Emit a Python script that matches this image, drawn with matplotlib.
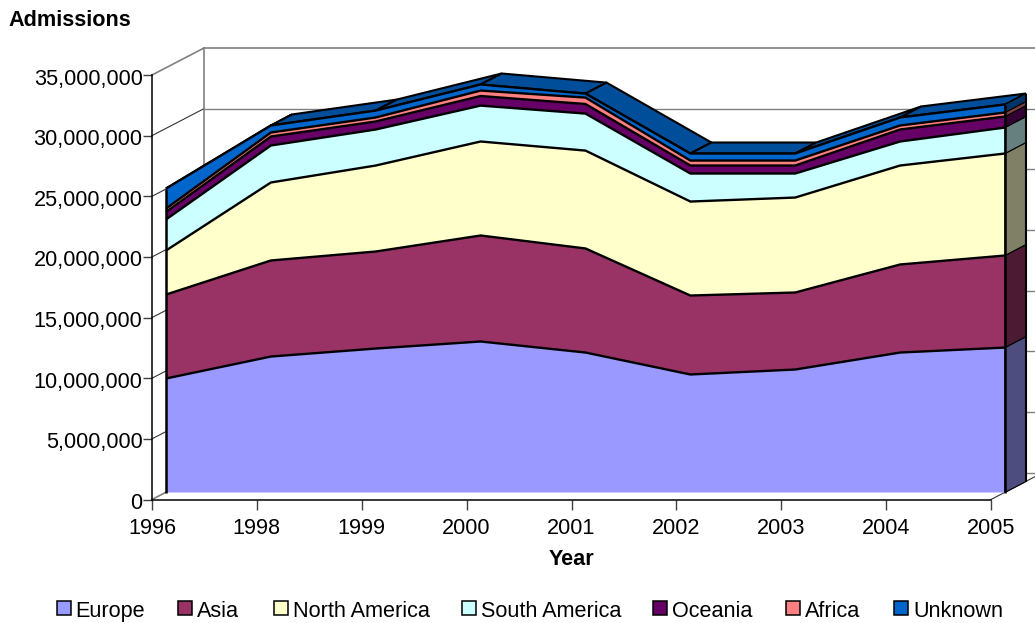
import matplotlib
matplotlib.use("Agg")
import matplotlib.pyplot as plt
import numpy as np
from matplotlib.patches import Polygon, Rectangle
from matplotlib.transforms import IdentityTransform, Affine2D

years = ["1996", "1998", "1999", "2000", "2001", "2002", "2003", "2004", "2005"]
series_names = ["Europe", "Asia", "North America", "South America", "Oceania", "Africa", "Unknown"]
europe = [9.40, 11.21, 11.87, 12.45, 11.54, 9.73, 10.14, 11.54, 11.95]
asia = [6.92, 7.92, 8.00, 8.74, 8.58, 6.51, 6.35, 7.26, 7.59]
north_america = [3.63, 6.43, 7.09, 7.75, 8.07, 7.75, 7.83, 8.16, 8.41]
south_america = [2.56, 3.05, 2.97, 2.96, 3.05, 2.31, 1.98, 1.98, 2.14]
oceania = [0.62, 0.74, 0.66, 0.79, 0.79, 0.66, 0.66, 0.99, 0.91]
africa = [0.28, 0.33, 0.33, 0.45, 0.53, 0.41, 0.41, 0.33, 0.33]
unknown = [1.65, 0.58, 0.57, 0.50, 0.33, 0.58, 0.58, 0.66, 0.66]
colors = ["#9999FF", "#993366", "#FFFFCC", "#CCFFFF", "#660066", "#FF8080", "#0066CC"]
side_colors = ["#4D4D80", "#4D1A33", "#808066", "#668080", "#330033", "#804040", "#003366"]
top_color = "#004D99"
legend_swatch_x = [57, 178, 274, 462, 653, 786, 894]
legend_text_x = [75, 197, 293, 481, 672, 805, 913]

plt.rcParams["font.family"] = ["Liberation Sans", "DejaVu Sans"]
W, H = 1035, 623
fig = plt.figure(figsize=(W / 100, H / 100), dpi=100)
ax = fig.add_axes([152 / W, (H - 499.5) / H, 839 / W, 424.5 / H])
x = np.arange(len(years))
ax.set_xlim(0, 8)
ax.set_ylim(0, 35_000_000)
ax.set_xticks(x, years)
yt = np.arange(0, 35_000_001, 5_000_000)
ax.set_yticks(yt, [f"{v:,}" for v in yt])
ax.tick_params(axis="x", length=7.2, width=1, color="#404040", labelsize=15.6, pad=6)
ax.tick_params(axis="y", length=6.8, width=1, color="#404040", labelsize=15.6, pad=0)
for lab in ax.get_yticklabels():
    lab.set_transform(lab.get_transform() + Affine2D().translate(0, -1.5))
ax.patch.set_visible(False)
for s in ("top", "right"):
    ax.spines[s].set_visible(False)
for s in ("left", "bottom"):
    ax.spines[s].set_linewidth(1.1)
ax.set_xlabel("Year", fontsize=15.6, fontweight="bold", labelpad=7)
fig.text(8 / W, (H - 20) / H, "Admissions", fontsize=15.6, fontweight="bold", va="center", ha="left")

ident = IdentityTransform()
FRONT = (14, 7)
BACK = (35, 18)
WALL = (52, 27)


def pts(xs, ys, off=(0, 0)):
    p = ax.transData.transform(np.column_stack([xs, ys]))
    return p + np.array(off)


def line(p, color="k", lw=1.1, z=3, cap="projecting"):
    ax.plot(p[:, 0], p[:, 1], color=color, lw=lw, transform=ident, clip_on=False,
            zorder=z, solid_capstyle=cap, solid_joinstyle="miter")


def poly(p, color, z, edge="k", lw=1.1):
    ax.add_patch(Polygon(p, closed=True, facecolor=color, edgecolor=edge, lw=lw,
                         transform=ident, clip_on=False, zorder=z, joinstyle="miter"))


# walls and gridlines
xmax_wall = 10
for v in yt:
    p = pts([0, xmax_wall], [v, v], WALL)
    line(p, color="#808080", lw=1.2 if v == yt[-1] else 1.0, z=1)
    a = pts([0], [v])[0]
    b = pts([0], [v], WALL)[0]
    line(np.array([a, b]), color="#808080" if v in (0, yt[-1]) else "#333333",
         lw=1.2 if v in (0, yt[-1]) else 0.8, z=1)
line(pts([0, 0], [0, yt[-1]], WALL), color="#808080", lw=1.2, z=1)
a = pts([8], [0])[0]
line(np.array([a, a + np.array(WALL)]), color="#333333", lw=0.8, z=1)

# stacked areas
stack = np.array([europe, asia, north_america, south_america, oceania, africa, unknown]) * 1e6
cum = np.cumsum(stack, axis=0)
lows = np.vstack([np.zeros(len(x)), cum[:-1]])

# top surface of the last series
top = cum[-1]
for i in range(len(x) - 1):
    q = np.vstack([pts(x[i:i + 2], top[i:i + 2], FRONT),
                   pts(x[i:i + 2][::-1], top[i:i + 2][::-1], BACK)])
    poly(q, top_color, 2, lw=1.5)

# faces
for k, name in enumerate(series_names):
    front_hi = pts(x, cum[k], FRONT)
    front_lo = pts(x, lows[k], FRONT)
    ax.add_patch(Polygon(np.vstack([front_lo, front_hi[::-1]]), closed=True,
                         facecolor=colors[k], edgecolor="none", transform=ident,
                         clip_on=False, zorder=4))
    q = np.array([front_lo[-1], front_hi[-1], front_hi[-1] + np.subtract(BACK, FRONT),
                  front_lo[-1] + np.subtract(BACK, FRONT)])
    ax.add_patch(Polygon(q, closed=True, facecolor=side_colors[k], edgecolor="k", lw=0.8,
                         transform=ident, clip_on=False, zorder=4))
    line(front_hi, lw=1.7, z=5, cap="butt")
# vertical ends
for i in (0, 8):
    line(pts([i, i], [0, top[i]], FRONT), lw=1.8, z=6, cap="butt")
end_back = pts([8, 8], [0, top[8]], BACK)
line(end_back, lw=1.5, z=6, cap="butt")

# legend
for sx, tx, c, name in zip(legend_swatch_x, legend_text_x, colors, series_names):
    fig.add_artist(Rectangle((sx / W, (H - 615) / H), 14 / W, 14 / H, facecolor=c,
                             edgecolor="k", lw=1.1, transform=fig.transFigure))
    fig.text(tx / W, (H - 611.5) / H, name, fontsize=15.6, va="center", ha="left")

fig.savefig("out.png", dpi=100)
